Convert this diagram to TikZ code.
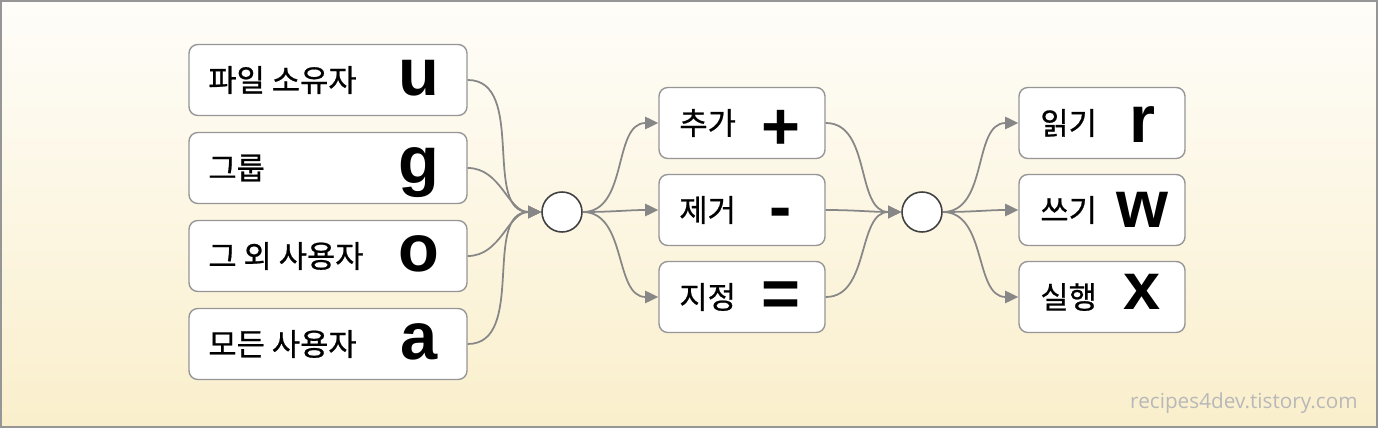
\documentclass[tikz,border=0pt]{standalone}
\usepackage{fontspec}
\setmainfont{Liberation Sans}
\newfontfamily\kor[FakeBold=0.7]{Noto Sans CJK KR}
\newfontfamily\wmfont{Open Sans}
\usetikzlibrary{arrows.meta}
\definecolor{paper}{RGB}{250,239,204}
\definecolor{paperTop}{RGB}{254,253,249}
\definecolor{edge}{RGB}{150,150,150}
\definecolor{wire}{RGB}{135,135,135}
\begin{document}
\begin{tikzpicture}[x=0.02cm,y=-0.02cm,
    box/.style={draw=edge,line width=0.8pt,fill=white,rounded corners=5pt,inner sep=0pt,minimum height=1.42cm},
    who/.style={anchor=west,inner sep=0pt,font=\kor\fontsize{17.5}{20}\selectfont},
    sym/.style={anchor=base,inner sep=0pt,font=\bfseries\fontsize{38}{40}\selectfont},
    hub/.style={circle,draw=black!75,fill=white,line width=0.9pt,minimum size=0.8cm,inner sep=0pt},
    link/.style={draw=wire,line width=1pt,-{Triangle[length=7.5pt,width=7pt]}}]
  \useasboundingbox (0,0) rectangle (1378,428);
  \shade[top color=paperTop,bottom color=paper,draw=edge,line width=0.8pt] (1,1) rectangle (1377,427);
  % who
  \node[box,minimum width=5.56cm] (own) at (328,80) {};
  \node[box,minimum width=5.56cm] (grp) at (328,168) {};
  \node[box,minimum width=5.56cm] (oth) at (328,256) {};
  \node[box,minimum width=5.56cm] (all) at (328,344) {};
  \node[who] (ownT) at (208,80) {파일 소유자};
  \node[who] (grpT) at (208,168) {그룹};
  \node[who] (othT) at (208,256) {그 외 사용자};
  \node[who] (allT) at (208,344) {모든 사용자};
  \node[sym] (ownS) at (419,96) {u};
  \node[sym] (grpS) at (419,184) {g};
  \node[sym] (othS) at (419,272) {o};
  \node[sym] (allS) at (419,360) {a};
  \node[hub] (whoHub) at (562,212) {};
  % operator
  \node[box,minimum width=3.32cm] (add) at (742,123) {};
  \node[box,minimum width=3.32cm] (del) at (742,210) {};
  \node[box,minimum width=3.32cm] (put) at (742,297) {};
  \node[who] (addT) at (679,123) {추가};
  \node[who] (delT) at (679,210) {제거};
  \node[who] (putT) at (679,297) {지정};
  \node[sym] (addS) at (781,150) {+};
  \node[sym] (delS) at (781,230) {-};
  \node[sym] (putS) at (781,317) {=};
  \node[hub] (opHub) at (922,212) {};
  % permission
  \node[box,minimum width=3.32cm] (rd) at (1102,123) {};
  \node[box,minimum width=3.32cm] (wr) at (1102,210) {};
  \node[box,minimum width=3.32cm] (ex) at (1102,297) {};
  \node[who] (rdT) at (1040,123) {읽기};
  \node[who] (wrT) at (1040,210) {쓰기};
  \node[who] (exT) at (1040,297) {실행};
  \node[sym] (rdS) at (1142,143) {r};
  \node[sym] (wrS) at (1142,228) {w};
  \node[sym] (exS) at (1142,310) {x};
  \draw[link] (own.east) to[out=0,in=180] (whoHub.west);
  \draw[link] (grp.east) to[out=0,in=180] (whoHub.west);
  \draw[link] (oth.east) to[out=0,in=180] (whoHub.west);
  \draw[link] (all.east) to[out=0,in=180] (whoHub.west);
  \draw[link] (whoHub.east) to[out=0,in=180] (add.west);
  \draw[link] (whoHub.east) to[out=0,in=180] (del.west);
  \draw[link] (whoHub.east) to[out=0,in=180] (put.west);
  \draw[link] (add.east) to[out=0,in=180] (opHub.west);
  \draw[link] (del.east) to[out=0,in=180] (opHub.west);
  \draw[link] (put.east) to[out=0,in=180] (opHub.west);
  \draw[link] (opHub.east) to[out=0,in=180] (rd.west);
  \draw[link] (opHub.east) to[out=0,in=180] (wr.west);
  \draw[link] (opHub.east) to[out=0,in=180] (ex.west);
  \node[anchor=base east,inner sep=0pt,text=black!28,font=\wmfont\fontsize{11.8}{13}\selectfont] (site) at (1358,409) {recipes4dev.tistory.com};
\end{tikzpicture}
\end{document}
